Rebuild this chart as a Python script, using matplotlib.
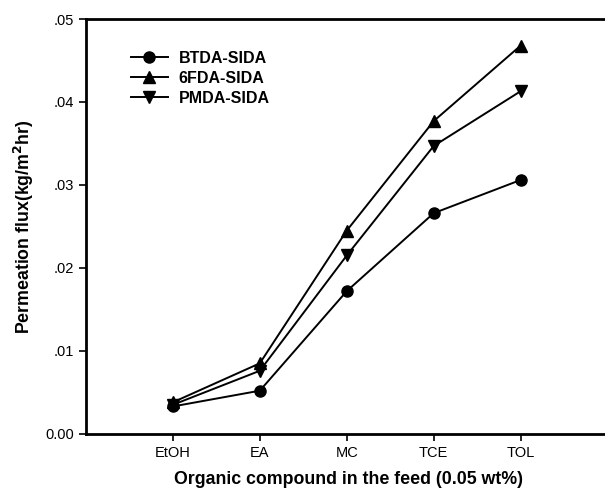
import matplotlib
matplotlib.use("Agg")
import matplotlib.pyplot as plt

categories = ["EtOH", "EA", "MC", "TCE", "TOL"]
btda = [0.0033, 0.0052, 0.0172, 0.0266, 0.0306]
fda6 = [0.0038, 0.0085, 0.0245, 0.0377, 0.0468]
pmda = [0.0035, 0.0076, 0.0215, 0.0347, 0.0413]
yticks = [0.0, 0.01, 0.02, 0.03, 0.04, 0.05]
ytick_labels = ["0.00", ".01", ".02", ".03", ".04", ".05"]

plt.rcParams['font.family'] = ['Liberation Sans', 'DejaVu Sans']

fig = plt.figure(figsize=(6.05, 4.88), dpi=100)
ax = fig.add_axes([0.142, 0.111, 0.858, 0.850])
x = list(range(1, len(categories) + 1))
ax.plot(x, btda, color='black', marker='o', markersize=8, lw=1.4, label='BTDA-SIDA')
ax.plot(x, fda6, color='black', marker='^', markersize=9, lw=1.4, label='6FDA-SIDA')
ax.plot(x, pmda, color='black', marker='v', markersize=9, lw=1.4, label='PMDA-SIDA')

ax.set_xlim(0, 5.97)
ax.set_ylim(0, 0.05)
ax.set_xticks(x)
ax.set_xticklabels(categories, fontsize=10.5)
ax.set_yticks(yticks)
ax.set_yticklabels(ytick_labels, fontsize=10.5)
ax.spines['right'].set_visible(False)
for s in ['left', 'bottom', 'top']:
    ax.spines[s].set_linewidth(2)
ax.tick_params(direction='out', length=5, width=1.2)
ax.set_ylabel("Permeation flux(kg/m$^\\mathbf{2}$hr)", fontsize=12.8, fontweight='bold', labelpad=7)
ax.set_xlabel("Organic compound in the feed (0.05 wt%)", fontsize=12.8, fontweight='bold')
ax.xaxis.set_label_coords(0.505, -0.111)
ax.xaxis.label.set_va('center')

leg = ax.legend(loc='upper left', bbox_to_anchor=(0.065, 0.95), frameon=False,
                handlelength=2.3, labelspacing=0.3, borderpad=0.2, handletextpad=0.7,
                prop={'weight': 'bold', 'size': 11.5})

fig.savefig("out.png", dpi=100)
